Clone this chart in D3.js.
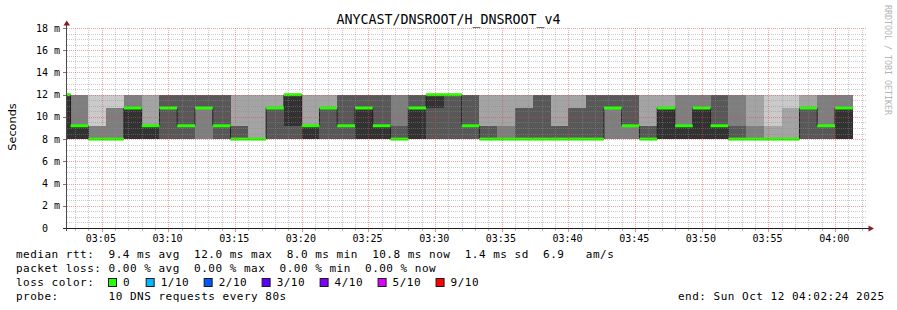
<!DOCTYPE html>
<html>
<head>
<meta charset="utf-8">
<script src="https://cdn.jsdelivr.net/npm/d3@7"></script>
<style>
  body { margin: 0; background: #fff; }
  text { font-family: "DejaVu Sans Mono", monospace; fill: #000; white-space: pre; }
</style>
</head>
<body>
<script>
// graph window (one hour) and the 80s probe steps
const endTime = new Date(2025, 9, 12, 4, 2, 24);
const firstStep = new Date(2025, 9, 12, 3, 1, 20);
const stepSeconds = 80;

// 10 sorted DNS times per step, in ms
const pings = [
  [8,8,8,8,8,12,12,12,12,12],
  [8,8,8,8,8,9.2,9.2,12,12,12],
  [8,8,8,8,8,8,8,9.2,9.2,12],
  [8,8,8,8,8,8,8,10.8,10.8,12],
  [8,8,8,8,8,10.8,10.8,12,12,12],
  [8,8,8,8,8,9.2,9.2,9.2,12,12],
  [8,8,8,8,10.8,10.8,12,12,12,12],
  [8,8,8,8,9.2,9.2,12,12,12,12],
  [8,8,8,10.8,10.8,10.8,12,12,12,12],
  [8,8,8,8,9.2,9.2,12,12,12,12],
  [8,8,8,8,8,8,9.2,9.2,12,12],
  [8,8,8,8,8,8,8,8,12,12],
  [8,8,8,8,10.8,10.8,10.8,10.8,12,12],
  [8,8,8,8,9.2,12,12,12,12,12],
  [8,8,8,8,8,9.2,9.2,9.2,12,12],
  [8,8,8,8,10.8,10.8,10.8,10.8,12,12],
  [8,8,8,8,9.2,9.2,12,12,12,12],
  [8,8,8,8,8,10.8,12,12,12,12],
  [8,8,8,8,8,9.2,12,12,12,12],
  [8,8,8,8,8,8,9.2,12,12,12],
  [8,8,8,8,8,10.8,12,12,12,12],
  [8,8,8,8,10.8,12,12,12,12,12],
  [8,8,8,8,12,12,12,12,12,12],
  [8,8,8,8,9.2,9.2,12,12,12,12],
  [8,8,8,8,8,8,9.2,9.2,12,12],
  [8,8,8,8,8,8,8,9.2,12,12],
  [8,8,8,8,8,8,10.8,10.8,12,12],
  [8,8,8,8,8,8,12,12,12,12],
  [8,8,8,8,8,8,9.2,9.2,12,12],
  [8,8,8,8,8,8,10.8,10.8,12,12],
  [8,8,8,8,8,8,12,12,12,12],
  [8,8,8,10.8,10.8,10.8,12,12,12,12],
  [8,8,8,9.2,9.2,9.2,12,12,12,12],
  [8,8,8,8,8,8,9.2,9.2,12,12],
  [8,8,8,8,8,10.8,10.8,10.8,12,12],
  [8,8,8,8,8,9.2,9.2,12,12,12],
  [8,8,8,8,8,10.8,10.8,12,12,12],
  [8,8,8,8,8,9.2,12,12,12,12],
  [8,8,8,8,8,8,9.2,12,12,12],
  [8,8,8,8,8,8,8,9.2,12,12],
  [8,8,8,8,8,8,8,8,9.2,12],
  [8,8,8,8,8,8,8,8,10.8,12],
  [8,8,8,8,10.8,10.8,10.8,10.8,12,12],
  [8,8,8,8,9.2,9.2,9.2,12,12,12],
  [8,8,8,8,8,10.8,10.8,12,12,12]
];

// legend texts
const title = "ANYCAST/DNSROOT/H_DNSROOT_v4";
const statLines = [
  "median rtt:  9.4 ms avg  12.0 ms max  8.0 ms min  10.8 ms now  1.4 ms sd  6.9   am/s",
  "packet loss: 0.00 % avg  0.00 % max  0.00 % min  0.00 % now"
];
const lossLabels = ["0", "1/10", "2/10", "3/10", "4/10", "5/10", "9/10"];
const lossColors = ["#26ff00", "#00b8ff", "#0059ff", "#5e00ff", "#7e00ff", "#dd00ff", "#ff0000"];
const probeText = "probe:       10 DNS requests every 80s";
const endText = "end: Sun Oct 12 04:02:24 2025";

// smoke shades, outer pair lightest -> inner pair darkest
const smokeShades = ["#cacaca", "#a4a4a4", "#7e7e7e", "#585858", "#323232"];

var svg = d3.select('body')
  .append('svg')
  .attr('width', 897)
  .attr('height', 310)
  .style('display', 'block');

var x = d3.scaleTime()
  .domain([d3.timeSecond.offset(endTime, -3600), endTime])
  .range([67, 867]);
var y = d3.scaleLinear().domain([0, 18]).range([228, 28]);

var cols = pings.map((p, i) => {
  var s = p.slice().sort(d3.ascending);
  return {
    t0: d3.timeSecond.offset(firstStep, i * stepSeconds),
    t1: d3.timeSecond.offset(firstStep, (i + 1) * stepSeconds),
    p: s,
    median: s[5]
  };
});
var last = cols[cols.length - 1];
var stepData = cols.concat([Object.assign({}, last, { t0: last.t1 })]);

svg.append('clipPath').attr('id', 'plot')
  .append('rect')
  .attr('x', x.range()[0]).attr('y', y.range()[1])
  .attr('width', x.range()[1] - x.range()[0])
  .attr('height', y.range()[0] - y.range()[1]);

var plot = svg.append('g').attr('clip-path', 'url(#plot)');

// smoke
smokeShades.forEach((c, b) => {
  plot.append('path')
    .datum(stepData)
    .attr('d', d3.area().curve(d3.curveStepAfter)
      .x(d => x(d.t0))
      .y0(d => y(d.p[b]))
      .y1(d => y(d.p[9 - b])))
    .attr('fill', c)
    .attr('shape-rendering', 'crispEdges');
});

// median line, thin dark steps then the loss coloured bars
plot.append('path')
  .datum(stepData)
  .attr('d', d3.line().curve(d3.curveStepAfter).x(d => x(d.t0)).y(d => y(d.median)))
  .attr('fill', 'none')
  .attr('stroke', '#202020')
  .attr('stroke-width', 1);

plot.append('g').selectAll('rect')
  .data(cols)
  .join('rect')
  .attr('x', d => x(d.t0))
  .attr('width', d => x(d.t1) - x(d.t0))
  .attr('y', d => y(d.median) - 1.5)
  .attr('height', 3)
  .attr('fill', lossColors[0]);

// grid on top
var px = v => Math.round(v) + 0.5;
var minorCol = 'rgba(140,140,140,0.45)';
var majorCol = 'rgba(225,70,70,0.5)';
var grid = svg.append('g').attr('fill', 'none').attr('stroke-width', 1);

var majorX = x.ticks(d3.timeMinute.every(5));
var minorX = x.ticks(d3.timeMinute.every(1)).filter(t => t.getMinutes() % 5 !== 0);
var majorY = y.ticks(9);
var minorY = y.ticks(36).filter(v => v % 2 !== 0);

grid.selectAll('.hmin').data(minorY).join('line')
  .attr('x1', x.range()[0]).attr('x2', x.range()[1])
  .attr('y1', d => px(y(d))).attr('y2', d => px(y(d)))
  .attr('stroke', minorCol).attr('stroke-dasharray', '1,1');
grid.selectAll('.vmin').data(minorX).join('line')
  .attr('x1', d => px(x(d))).attr('x2', d => px(x(d)))
  .attr('y1', y.range()[1]).attr('y2', y.range()[0])
  .attr('stroke', minorCol).attr('stroke-dasharray', '1,1');
grid.selectAll('.hmaj').data(majorY.filter(v => v > 0)).join('line')
  .attr('x1', x.range()[0]).attr('x2', x.range()[1])
  .attr('y1', d => px(y(d))).attr('y2', d => px(y(d)))
  .attr('stroke', majorCol).attr('stroke-dasharray', '1,1');
grid.selectAll('.vmaj').data(majorX).join('line')
  .attr('x1', d => px(x(d))).attr('x2', d => px(x(d)))
  .attr('y1', y.range()[1]).attr('y2', y.range()[0])
  .attr('stroke', majorCol).attr('stroke-dasharray', '1,1');

// little tick marks on the axes
var ticks = svg.append('g').attr('stroke-width', 1);
ticks.selectAll('.tx').data(minorX).join('line')
  .attr('x1', d => px(x(d))).attr('x2', d => px(x(d)))
  .attr('y1', 229).attr('y2', 231).attr('stroke', '#bbbbbb');
ticks.selectAll('.tX').data(majorX).join('line')
  .attr('x1', d => px(x(d))).attr('x2', d => px(x(d)))
  .attr('y1', 229).attr('y2', 232).attr('stroke', '#e89090');
ticks.selectAll('.ty').data(majorY).join('line')
  .attr('x1', 63).attr('x2', 66)
  .attr('y1', d => px(y(d))).attr('y2', d => px(y(d)))
  .attr('stroke', '#777777');

// axes
svg.append('line')
  .attr('x1', 63).attr('x2', 869).attr('y1', 228.5).attr('y2', 228.5)
  .attr('stroke', '#1f1f1f');
svg.append('line')
  .attr('x1', 66.5).attr('x2', 66.5).attr('y1', 231).attr('y2', 25)
  .attr('stroke', '#4a4a4a');
svg.append('path')
  .attr('d', 'M63.5,25.5L70,25.5L66.8,20.5Z')
  .attr('fill', '#7f1f1f');
svg.append('path')
  .attr('d', 'M868.5,225.5L868.5,231.5L874,228.5Z')
  .attr('fill', '#7f1f1f');

// tick labels
svg.append('g').selectAll('text')
  .data(majorY)
  .join('text')
  .attr('x', 60)
  .attr('y', d => y(d) + 3.6)
  .attr('text-anchor', 'end')
  .style('font-size', '10px')
  .text(d => d === 0 ? '0  ' : d + ' m');

svg.append('g').selectAll('text')
  .data(majorX)
  .join('text')
  .attr('x', d => x(d) - 0.8)
  .attr('y', 241.5)
  .attr('text-anchor', 'middle')
  .style('font-size', '10px')
  .text(d => d3.timeFormat('%H:%M')(d));

svg.append('text')
  .attr('transform', 'translate(15.5,127) rotate(-90)')
  .attr('text-anchor', 'middle')
  .style('font-family', '"DejaVu Sans", sans-serif')
  .style('font-size', '11.3px')
  .text('Seconds');

svg.append('text')
  .attr('x', 448.5).attr('y', 23.5)
  .attr('text-anchor', 'middle')
  .style('font-size', '13.3px')
  .text(title);

svg.append('text')
  .attr('transform', 'translate(884.5,5) rotate(90)')
  .style('font-size', '8.3px')
  .style('fill', '#b4b4b4')
  .text('RRDTOOL / TOBI OETIKER');

// legend
var legend = svg.append('g').style('font-size', '11px').style('letter-spacing', '0.5px');
statLines.forEach((s, i) => {
  legend.append('text').attr('x', 16).attr('y', 258 + i * 14).text(s);
});
legend.append('text').attr('x', 16).attr('y', 286).text('loss color:');
var cx = 108;
lossLabels.forEach((l, i) => {
  legend.append('rect')
    .attr('x', cx + 0.5).attr('y', 278.5)
    .attr('width', 8).attr('height', 8)
    .attr('fill', lossColors[i])
    .attr('stroke', '#1a1a1a');
  legend.append('text').attr('x', cx + 15).attr('y', 286).text(l);
  cx += 15 + l.length * 6.77 + 15.9;
});
legend.append('text').attr('x', 16).attr('y', 300).text(probeText);
legend.append('text').attr('x', 678).attr('y', 300).text(endText);
</script>
</body>
</html>
